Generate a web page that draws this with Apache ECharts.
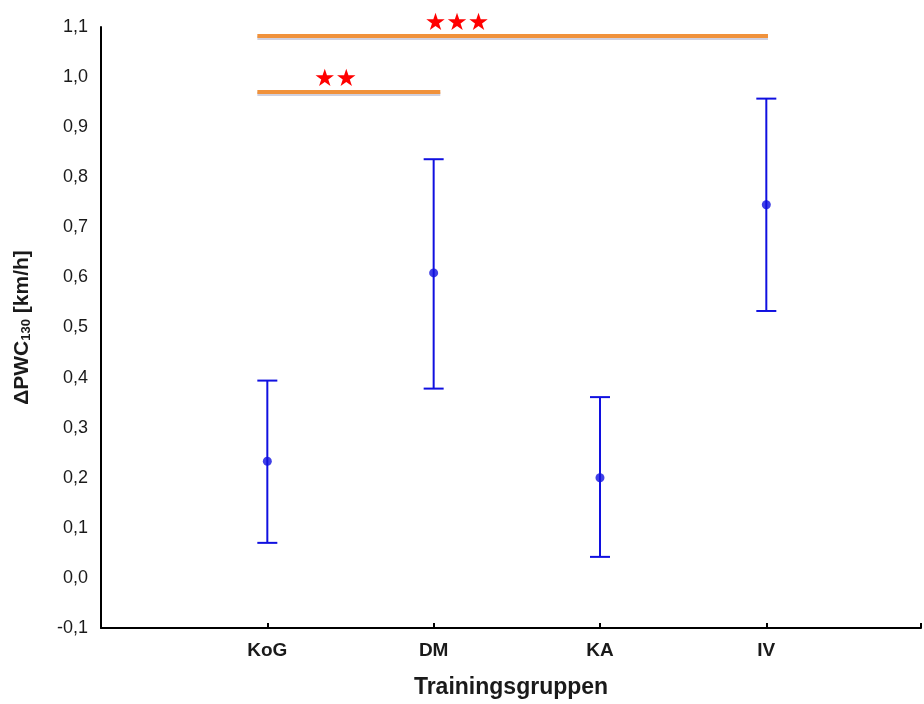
<!DOCTYPE html>
<html><head><meta charset="utf-8">
<script src="https://cdn.jsdelivr.net/npm/echarts@6/dist/echarts.min.js"></script>
<style>html,body{margin:0;padding:0;background:#fff}#c{width:924px;height:704px}</style>
</head><body><div id="c"></div>
<script>
const categories = ['KoG', 'DM', 'KA', 'IV'];
const means = [0.233, 0.609, 0.200, 0.745];
const lows  = [0.070, 0.378, 0.042, 0.533];
const highs = [0.394, 0.836, 0.361, 0.957];
const yTicks = [-0.1, 0.0, 0.1, 0.2, 0.3, 0.4, 0.5, 0.6, 0.7, 0.8, 0.9, 1.0, 1.1];
// significance brackets: start, end (x positions), level (y), stars, star centre x
const sigStart = [0.94, 0.94];
const sigEnd   = [2.04, 4.01];
const sigLevel = [0.970, 1.082];
const sigStars = ['★★', '★★★'];
const sigStarX = [1.41, 2.14];

const chart = echarts.init(document.getElementById('c'));
const errData = categories.map((c, i) => [i + 1, lows[i], highs[i]]);
const meanData = categories.map((c, i) => [i + 1, means[i]]);
const sigData = sigStart.map((s, i) => [s, sigEnd[i], sigLevel[i], sigStarX[i], sigStars[i]]);

chart.setOption({
  animation: false,
  grid: { left: 101, right: 0, top: 27, bottom: 71 },
  xAxis: {
    type: 'value', min: 0, max: 4.93, interval: 1,
    splitLine: { show: false },
    axisLine: { onZero: false, lineStyle: { color: '#000', width: 2 } },
    axisTick: { inside: true, length: 5, lineStyle: { color: '#000', width: 2 } },
    axisLabel: {
      margin: 13, color: '#1a1a1a', fontWeight: 'bold', fontSize: 19, fontFamily: 'Liberation Sans',
      formatter: v => (Number.isInteger(v) && v >= 1 && v <= categories.length) ? categories[v - 1] : ''
    },
    name: 'Trainingsgruppen', nameLocation: 'middle', nameGap: 48,
    nameTextStyle: { color: '#1a1a1a', fontWeight: 'bold', fontSize: 23, fontFamily: 'Liberation Sans' }
  },
  yAxis: {
    type: 'value', min: -0.1, max: 1.1, interval: 0.1,
    splitLine: { show: false },
    axisLine: { show: true, onZero: false, lineStyle: { color: '#000', width: 2 } },
    axisTick: { show: false },
    axisLabel: {
      margin: 13, color: '#1a1a1a', fontSize: 18, fontFamily: 'Liberation Sans',
      formatter: v => {
        const t = yTicks.find(x => Math.abs(x - v) < 1e-6);
        return t === undefined ? '' : t.toFixed(1).replace('.', ',');
      }
    },
    name: '{a|ΔPWC}{s|130}{a| [km/h]}', nameLocation: 'middle', nameGap: 68, nameRotate: 90,
    nameTextStyle: {
      rich: {
        a: { color: '#1a1a1a', fontWeight: 'bold', fontSize: 21, fontFamily: 'Liberation Sans' },
        s: { color: '#1a1a1a', fontWeight: 'bold', fontSize: 13, fontFamily: 'Liberation Sans', verticalAlign: 'bottom', padding: [8, 0, 0, 0] }
      }
    }
  },
  series: [
    {
      type: 'custom', data: errData, z: 2,
      renderItem: (params, api) => {
        const x = api.value(0);
        const lo = api.coord([x, api.value(1)]);
        const hi = api.coord([x, api.value(2)]);
        const w = 10;
        const st = { stroke: '#1010e0', lineWidth: 2 };
        return { type: 'group', children: [
          { type: 'line', shape: { x1: lo[0], y1: lo[1], x2: hi[0], y2: hi[1] }, style: st },
          { type: 'line', shape: { x1: lo[0] - w, y1: lo[1], x2: lo[0] + w, y2: lo[1] }, style: st },
          { type: 'line', shape: { x1: hi[0] - w, y1: hi[1], x2: hi[0] + w, y2: hi[1] }, style: st }
        ]};
      }
    },
    {
      type: 'scatter', data: meanData, symbolSize: 9, z: 3,
      itemStyle: { color: '#1010e0' }
    },
    {
      type: 'custom', data: sigData, z: 4, clip: false,
      renderItem: (params, api) => {
        const a = api.coord([api.value(0), api.value(2)]);
        const b = api.coord([api.value(1), api.value(2)]);
        const s = api.coord([api.value(3), api.value(2)]);
        return { type: 'group', children: [
          { type: 'line', shape: { x1: a[0], y1: a[1] + 2, x2: b[0], y2: b[1] + 2 }, style: { stroke: 'rgba(120,120,160,0.35)', lineWidth: 4 } },
          { type: 'line', shape: { x1: a[0], y1: a[1], x2: b[0], y2: b[1] }, style: { stroke: '#f0923c', lineWidth: 4 } },
          { type: 'text', x: s[0], y: s[1], style: { text: sigStars[params.dataIndex], fill: '#ff0000', fontSize: 24, fontFamily: 'DejaVu Sans', align: 'center', verticalAlign: 'bottom' } }
        ]};
      }
    }
  ]
});
</script></body></html>
